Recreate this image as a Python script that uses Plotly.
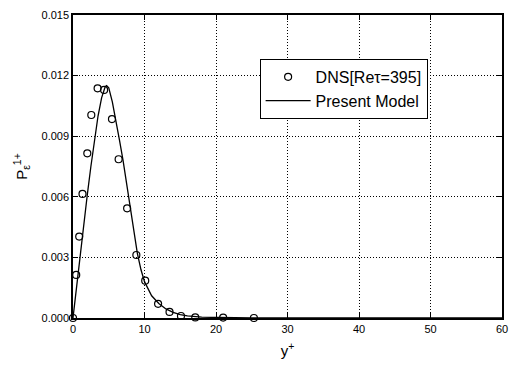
import plotly.graph_objects as go

# DNS data (circles)
dns_x = [0, 0.45, 0.87, 1.33, 2.0, 2.56, 3.44, 4.35, 5.45, 6.38, 7.57, 8.86, 10.1, 11.9, 13.5, 15.1, 17.1, 21.0, 25.3]
dns_y = [0.0, 0.00213, 0.00403, 0.00614, 0.00815, 0.01005, 0.01137, 0.01129, 0.00985, 0.00786,
         0.00543, 0.00312, 0.00185, 0.00070, 0.00030, 0.00010, 0.00003, 0.00002, 0.0]

# Present model (line)
model_x = [0, 0.5, 1, 1.5, 2, 2.5, 3, 3.5, 4, 4.5, 4.7, 5, 5.5, 6, 6.5, 7, 7.5, 8, 8.5, 9, 9.5, 10,
           11, 12, 13, 14, 15, 16, 18, 20, 25, 30, 40, 50, 60]
model_y = [0, 0.0016, 0.0032, 0.0047, 0.0061, 0.0075, 0.0088, 0.0100, 0.0109, 0.01145, 0.0115, 0.0114,
           0.0107, 0.0098, 0.0088, 0.0078, 0.0066, 0.0055, 0.0043, 0.0032, 0.0024, 0.0018,
           0.0011, 0.00072, 0.00045, 0.00028, 0.00017, 0.0001, 0.00004, 0.00002, 0, 0, 0, 0, 0]

x_ticks = [0, 10, 20, 30, 40, 50, 60]
y_ticks = [0.000, 0.003, 0.006, 0.009, 0.012, 0.015]

FONT = "Liberation Sans, Arial, sans-serif"

fig = go.Figure()
fig.add_trace(go.Scatter(
    x=dns_x, y=dns_y, mode="markers", name="DNS[Reτ=395]",
    marker=dict(symbol="circle-open", size=7, color="black", line=dict(width=1.2, color="black")),
    cliponaxis=False,
))
fig.add_trace(go.Scatter(
    x=model_x, y=model_y, mode="lines", name="Present Model",
    line=dict(color="black", width=1.3),
))

axis_common = dict(
    showline=True, linecolor="black", linewidth=1.5, mirror="ticks",
    ticks="inside", ticklen=5, tickcolor="black", tickwidth=1.2,
    showgrid=True, gridcolor="black", griddash="1px,2px", gridwidth=1,
    zeroline=False,
    tickfont=dict(family=FONT, size=11, color="black"),
)

fig.update_layout(
    width=513, height=367,
    margin=dict(l=73, r=5, t=15, b=49),
    paper_bgcolor="white", plot_bgcolor="white",
    showlegend=True,
    legend=dict(
        x=0.435, y=0.855, xanchor="left", yanchor="top",
        bordercolor="black", borderwidth=1, bgcolor="white",
        font=dict(family=FONT, size=16, color="black"),
        itemwidth=45, tracegroupgap=0,
    ),
    xaxis=dict(range=[0, 60], tickvals=x_ticks, ticktext=[str(v) for v in x_ticks],
               title=dict(text="y<sup>+</sup>", font=dict(family=FONT, size=15, color="black"), standoff=12),
               **axis_common),
    yaxis=dict(range=[0, 0.015], tickvals=y_ticks, ticktext=[f"{v:.3f}" for v in y_ticks],
               title=dict(text="P<sub>ε</sub><sup>1+</sup>", font=dict(family=FONT, size=15, color="black"), standoff=10),
               **axis_common),
)

fig.write_html("out.html")
